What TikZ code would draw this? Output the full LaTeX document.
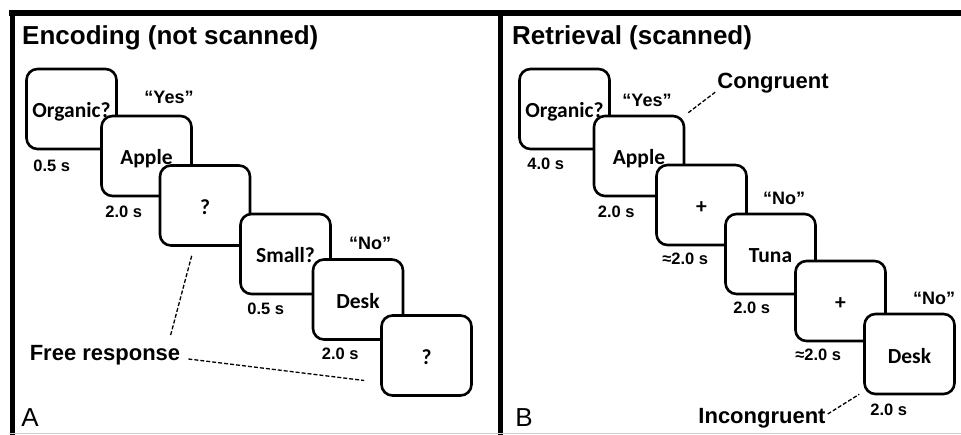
\documentclass[tikz,border=0pt]{standalone}
\usepackage{fontspec}
\setmainfont{Liberation Sans}
\newfontfamily\cardfont{Carlito}
\usepackage{tikz}

\begin{document}
\begin{tikzpicture}[x=1pt, y=-1pt,
	card/.style={draw, fill=white, line width=2.6pt, rounded corners=11pt, minimum width=90pt, minimum height=80pt, inner sep=0pt, text height=18pt, text depth=0pt, font=\cardfont\bfseries\fontsize{21.5}{21.5}\selectfont},
	dur/.style={anchor=west, inner sep=0pt, font=\bfseries\fontsize{16.5}{16.5}\selectfont},
	resp/.style={inner sep=0pt, font=\bfseries\fontsize{18}{18}\selectfont},
	ttl/.style={anchor=west, inner sep=0pt, font=\bfseries\fontsize{26}{26}\selectfont},
	note/.style={inner sep=0pt, font=\bfseries\fontsize{22}{22}\selectfont},
	lead/.style={dash pattern=on 4pt off 2pt, line width=1.3pt}]
			\useasboundingbox (0,0) rectangle (961,435);
			% frame
			\draw [line width=6pt] (9,13)-- (961,13);
			\draw [line width=5pt] (12,10)-- (12,435);
			\draw [line width=5pt] (500,10)-- (500,435);
			\draw [gray!40, line width=1pt] (9,433)-- (961,433);
			% panel A
			\node[ttl] (ta) at (22,38) {Encoding (not scanned)};
			\node[card] (a1) at (71.5,109) {Organic?};
			\node[dur] at ([shift={(8,16)}]a1.south west) {0.5 s};
			\node[resp] (ya) at (169,97) {“Yes”};
			\node[card] (a2) at (146.5,156) {Apple};
			\node[dur] at ([shift={(5,15)}]a2.south west) {2.0 s};
			\node[card] (a3) at (205,205.5) {?};
			\node[card] (a4) at (285.5,254) {Small?};
			\node[dur] at ([shift={(8,14)}]a4.south west) {0.5 s};
			\node[resp] (na) at (370,243) {“No”};
			\node[card] (a5) at (358,299.5) {Desk};
			\node[dur] at ([shift={(10,13)}]a5.south west) {2.0 s};
			\node[card] (a6) at (426.5,355.5) {?};
			\node[note] (fresp) at (105,355) {Free response};
			\draw [lead] ([shift={(33,9)}]a3.south west)-- ([shift={(-10,-9)}]fresp.north east);
			\draw [lead] ([shift={(8,4)}]fresp.east)-- ([shift={(-16,25)}]a6.west);
			\node[inner sep=0pt, font=\fontsize{26}{26}\selectfont] (pa) at (30,418) {A};
			% panel B
			\node[ttl] (tb) at (512,38) {Retrieval (scanned)};
			\node[card] (b1) at (564.5,109) {Organic?};
			\node[dur] at ([shift={(9,14)}]b1.south west) {4.0 s};
			\node[resp] (yb) at (647,100) {“Yes”};
			\node[card] (b2) at (639,156) {Apple};
			\node[dur] at ([shift={(5,15)}]b2.south west) {2.0 s};
			\node[note] (cong) at (773,83) {Congruent};
			\draw [lead] ([shift={(3,-2)}]b2.north east)-- ([shift={(-2,-1)}]cong.south west);
			\node[card] (b3) at (701.5,205) {+};
			\node[dur] at ([shift={(7,13)}]b3.south west) {≈2.0 s};
			\node[resp] (nb) at (784,198) {“No”};
			\node[card] (b4) at (770.5,254) {Tuna};
			\node[dur] at ([shift={(9,13)}]b4.south west) {2.0 s};
			\node[card] (b5) at (840.5,301) {+};
			\node[dur] at ([shift={(1,13)}]b5.south west) {≈2.0 s};
			\node[resp] (nc) at (934,298) {“No”};
			\node[card] (b6) at (909.5,354) {Desk};
			\node[dur] at ([shift={(7,15)}]b6.south west) {2.0 s};
			\node[note] (incong) at (762,418) {Incongruent};
			\draw [lead] ([shift={(2,-4)}]incong.east)-- ([shift={(-4,-1)}]b6.south west);
			\node[inner sep=0pt, font=\fontsize{26}{26}\selectfont] (pb) at (524,418) {B};
		\end{tikzpicture}
\end{document}
